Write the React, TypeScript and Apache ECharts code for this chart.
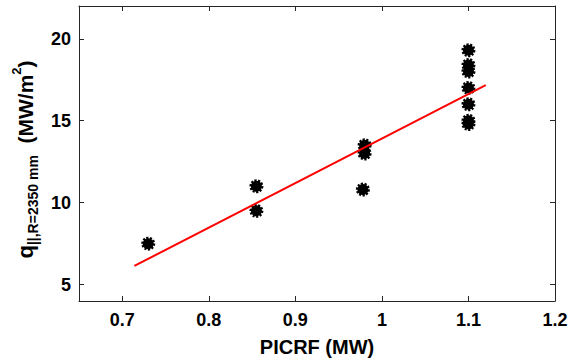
import React, { useEffect, useRef } from "react";
import * as echarts from "echarts";

const picrf = [0.73, 0.855, 0.855, 0.978, 0.98, 0.98, 1.1, 1.1, 1.1, 1.1, 1.1, 1.1, 1.1];
const qPar = [7.5, 11.0, 9.5, 10.8, 13.0, 13.5, 19.3, 18.4, 18.0, 17.0, 16.0, 15.0, 14.8];
const fitX = [0.714, 1.12];
const fitY = [6.14, 17.17];
const xTicks = [0.7, 0.8, 0.9, 1.0, 1.1, 1.2];
const yTicks = [5, 10, 15, 20];

const FONT = "Liberation Sans, Arial, Helvetica, sans-serif";
const AXIS_COLOR = "#262626";

export default function App() {
  const ref = useRef<HTMLDivElement>(null);
  useEffect(() => {
    if (!ref.current) return;
    const chart = echarts.init(ref.current, undefined, { renderer: "svg" });
    const tickLabel = { color: "#000", fontFamily: FONT, fontWeight: "bold" as const, fontSize: 18 };
    const axisLine = { show: true, lineStyle: { color: AXIS_COLOR, width: 1 } };
    const axisTickX = { show: true, inside: true, length: 5, lineStyle: { color: AXIS_COLOR }, customValues: xTicks };
    const axisTickY = { show: true, inside: true, length: 5, lineStyle: { color: AXIS_COLOR }, customValues: yTicks };
    chart.setOption({
      animation: false,
      backgroundColor: "#fff",
      grid: { left: 79, top: 6, right: 21, bottom: 59 },
      xAxis: [
        {
          type: "value",
          min: 0.65,
          max: 1.2,
          interval: 0.05,
          axisLine,
          axisTick: axisTickX,
          axisLabel: {
            ...tickLabel,
            margin: 10,
            customValues: xTicks,
            formatter: (v: number) => String(Math.round(v * 10) / 10),
          },
          splitLine: { show: false },
          name: "PICRF (MW)",
          nameLocation: "middle",
          nameGap: 36,
          nameTextStyle: { color: "#000", fontFamily: FONT, fontWeight: "bold", fontSize: 20 },
        },
        {
          type: "value",
          position: "top",
          min: 0.65,
          max: 1.2,
          interval: 0.05,
          axisLine,
          axisTick: axisTickX,
          axisLabel: { show: false },
          splitLine: { show: false },
        },
      ],
      yAxis: [
        {
          type: "value",
          min: 4,
          max: 22,
          interval: 1,
          axisLine,
          axisTick: axisTickY,
          axisLabel: {
            ...tickLabel,
            margin: 8,
            customValues: yTicks,
            formatter: (v: number) => String(v),
          },
          splitLine: { show: false },
          name: "{q|q}{sub|||,R=2350 mm}{u|  (MW/m}{sup|2}{u|)}",
          nameLocation: "middle",
          nameRotate: 90,
          nameGap: 36,
          nameTextStyle: {
            color: "#000",
            fontFamily: FONT,
            fontWeight: "bold",
            padding: [0, 12, 0, 0],
            rich: {
              q: { fontSize: 22, fontWeight: "bold", fontFamily: FONT, color: "#000", lineHeight: 30 },
              sub: { fontSize: 14, fontWeight: "bold", fontFamily: FONT, color: "#000", verticalAlign: "bottom", lineHeight: 15 },
              u: { fontSize: 21, fontWeight: "bold", fontFamily: FONT, color: "#000", lineHeight: 30 },
              sup: { fontSize: 13, fontWeight: "bold", fontFamily: FONT, color: "#000", verticalAlign: "top", lineHeight: 15 },
            },
          },
        },
        {
          type: "value",
          position: "right",
          min: 4,
          max: 22,
          interval: 1,
          axisLine,
          axisTick: axisTickY,
          axisLabel: { show: false },
          splitLine: { show: false },
        },
      ],
      series: [
        {
          type: "scatter",
          data: picrf.map((x, i) => [x, qPar[i]]),
          symbol: "circle",
          symbolSize: 11,
          itemStyle: {
            color: "#000",
            borderColor: "#000",
            borderWidth: 3,
            borderType: [2, 1.4],
            opacity: 1,
          },
          z: 3,
        },
        {
          type: "line",
          data: fitX.map((x, i) => [x, fitY[i]]),
          showSymbol: false,
          symbol: "none",
          lineStyle: { color: "#ff0000", width: 2 },
          z: 4,
        },
      ],
    });
    return () => chart.dispose();
  }, []);
  return <div ref={ref} style={{ width: 576, height: 362, position: "absolute", left: 0, top: 0 }} />;
}
